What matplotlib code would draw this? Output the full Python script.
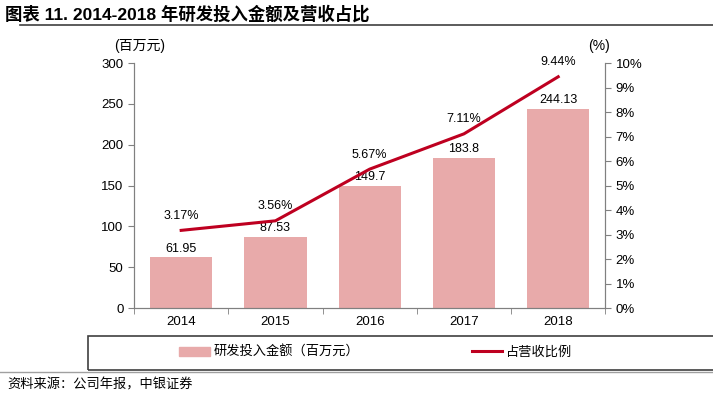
import matplotlib.pyplot as plt
from matplotlib.patches import Rectangle
from matplotlib.lines import Line2D

plt.rcParams['font.family'] = ['Liberation Sans', 'Noto Sans CJK SC']

years = ['2014', '2015', '2016', '2017', '2018']
rd_spend = [61.95, 87.53, 149.7, 183.8, 244.13]
rd_ratio = [3.17, 3.56, 5.67, 7.11, 9.44]
rd_spend_labels = ['61.95', '87.53', '149.7', '183.8', '244.13']

bar_color = '#E8AAAA'
line_color = '#BE0020'
axis_color = '#808080'

fig = plt.figure(figsize=(7.13, 3.99), dpi=100)
ax = fig.add_axes([0.188, 0.228, 0.661, 0.614])
ax2 = ax.twinx()

x = list(range(len(years)))
ax.bar(x, rd_spend, width=0.66, color=bar_color, zorder=2)
for xi, v, lab in zip(x, rd_spend, rd_spend_labels):
    ax.text(xi, v + 3, lab, ha='center', va='bottom', fontsize=9)

ax.set_xlim(-0.5, 4.5)
ax.set_ylim(0, 300)
ax.set_yticks(range(0, 301, 50))
ax.set_xticks(x)
ax.set_xticklabels(years)
ax.set_xticks([i + 0.5 for i in range(-1, 5)], minor=True)
ax.tick_params(axis='x', which='major', length=0, labelsize=9.5, pad=6)
ax.tick_params(axis='x', which='minor', length=4, color=axis_color, direction='out')
ax.tick_params(axis='y', length=4, color=axis_color, labelsize=9.5, direction='out')

ax2.plot(x, rd_ratio, color=line_color, linewidth=2.2, zorder=3)
ax2.set_ylim(0, 10)
ax2.set_yticks(range(0, 11))
ax2.set_yticklabels([f'{i}%' for i in range(0, 11)])
ax2.tick_params(axis='y', length=4, color=axis_color, labelsize=9.5, direction='out')
for xi, v in zip(x, rd_ratio):
    ax2.text(xi, v + 0.35, f'{v:.2f}%', ha='center', va='bottom', fontsize=9)

for a in (ax, ax2):
    a.spines['top'].set_visible(False)
    for s in ('left', 'right', 'bottom'):
        a.spines[s].set_color(axis_color)
        a.spines[s].set_linewidth(0.8)
ax.set_zorder(ax2.get_zorder() - 1)
ax.patch.set_visible(False)

fig.text(0.196, 0.885, '(百万元)', ha='center', va='center', fontsize=10)
fig.text(0.840, 0.885, '(%)', ha='center', va='center', fontsize=10)

# title and rules
fig.text(0.007, 0.965, '图表 11. 2014-2018 年研发投入金额及营收占比', ha='left', va='center',
         fontsize=12.5, fontweight='bold')
fig.add_artist(Line2D([0.028, 1.0], [0.938, 0.938], color='#404040', linewidth=1.2))
fig.add_artist(Line2D([0.0, 1.0], [0.068, 0.068], color='#A0A0A0', linewidth=1.0))
fig.add_artist(Rectangle((0.123, 0.072), 0.9, 0.087, transform=fig.transFigure,
                         fill=False, edgecolor='#404040', linewidth=1.2))

handles = [Rectangle((0, 0), 1, 1, color=bar_color),
           Line2D([0], [0], color=line_color, linewidth=2.2)]
fig.legend(handles, ['研发投入金额（百万元）', '占营收比例'], loc='center left',
           bbox_to_anchor=(0.235, 0.117), ncol=2, frameon=False, fontsize=9.5,
           columnspacing=8.5, handlelength=2.3, handletextpad=0.3)

fig.text(0.01, 0.035, '资料来源：公司年报，中银证券', ha='left', va='center',
         fontsize=9.5, style='italic')

fig.savefig('out.png', dpi=100)
